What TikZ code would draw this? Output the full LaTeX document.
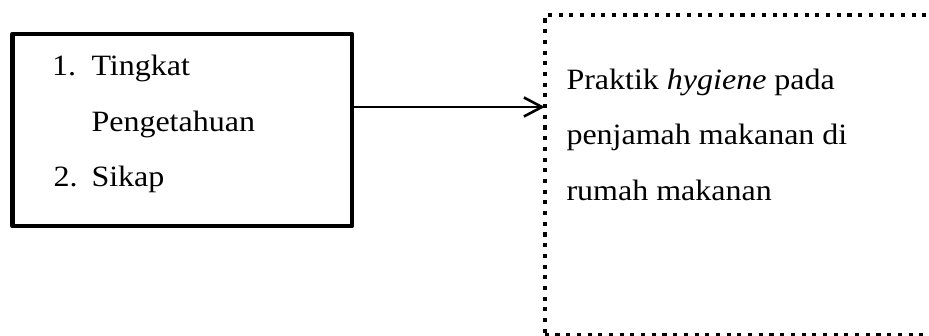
\documentclass[tikz,border=0pt]{standalone}
\usepackage{fontspec}
\setmainfont{Liberation Serif}[FakeStretch=1.085]
\usetikzlibrary{arrows.meta}
\begin{document}
\begin{tikzpicture}[x=1pt,y=1pt,
  solidbox/.style={draw=black, line width=4.6pt, line join=round, rectangle,
    inner sep=0pt, outer sep=0pt},
  dotbox/.style={draw=black, line width=4.1pt, line cap=butt, rectangle,
    dash pattern=on 4.1pt off 6.6pt, inner sep=0pt, outer sep=0pt},
  arr/.style={line width=2.1pt, -{Straight Barb[length=18pt,width=19pt,line width=2.6pt]}},
  txt/.style={anchor=base west, inner sep=0pt, outer sep=0pt,
    font=\fontsize{29.5}{36}\selectfont}]
\useasboundingbox (0,0) rectangle (929,336);
\clip (0,0) rectangle (929,336);

% left box with the two factors
\node[solidbox, minimum width=339.5pt, minimum height=192pt] (factors) at (182.25,206) {};
\node[txt] (n1) at (52,260) {1.};
\node[txt] (t1) at (91.5,260) {Tingkat};
\node[txt] (t1b) at (91.5,204.5) {Pengetahuan};
\node[txt] (n2) at (53.5,149) {2.};
\node[txt] (t2) at (91.5,149) {Sikap};

% dotted box, open past the right edge
\node[dotbox, minimum width=400pt, minimum height=320pt] (practice) at (744.7,161) {};
\node[txt] (p1) at (566.5,246.5) {Praktik \textit{hygiene} pada};
\node[txt] (p2) at (566.5,191) {penjamah makanan di};
\node[txt] (p3) at (566.5,135.5) {rumah makanan};

% connector
\coordinate (src) at ([yshift=23pt]factors.east);
\draw[arr] (src) -- (src -| practice.west);
\end{tikzpicture}
\end{document}
